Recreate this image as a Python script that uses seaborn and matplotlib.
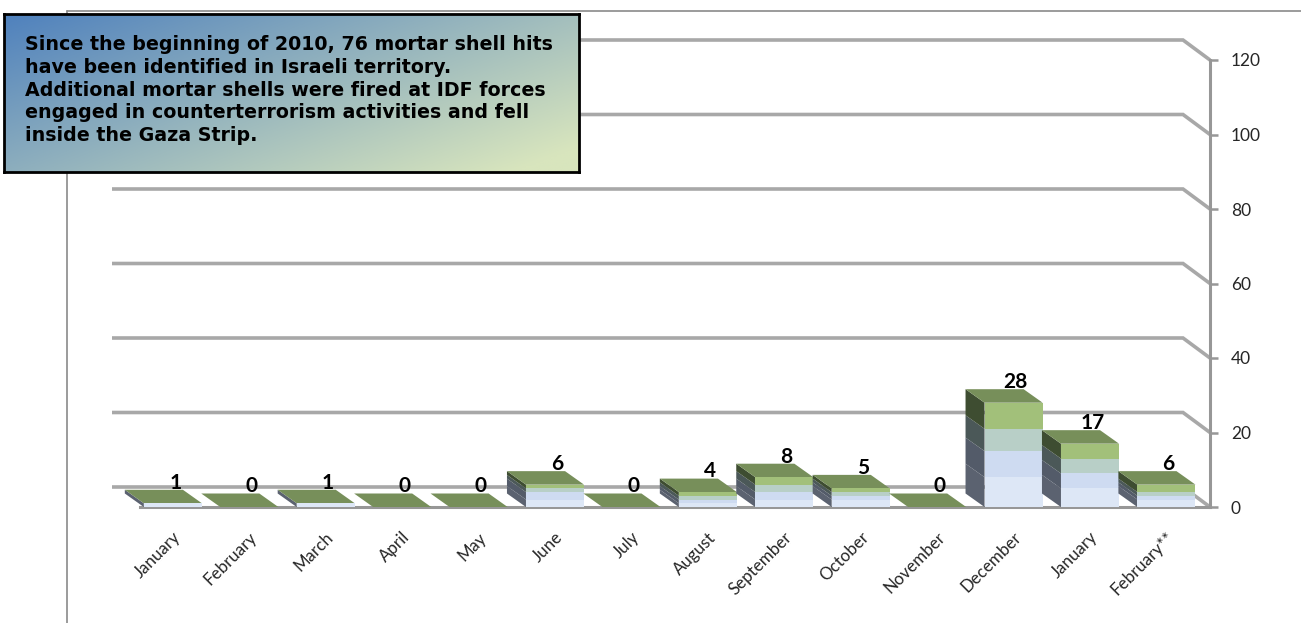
import numpy as np
import pandas as pd
import matplotlib
matplotlib.use("Agg")
import matplotlib.pyplot as plt
from matplotlib.patches import Polygon
from matplotlib.lines import Line2D
import seaborn as sns

# Monthly mortar shell hits (2010 through February 2011)
months = ["January", "February", "March", "April", "May", "June", "July",
          "August", "September", "October", "November", "December",
          "January", "February**"]
totals = [1, 0, 1, 0, 0, 6, 0, 4, 8, 5, 0, 28, 17, 6]
# stacked layers, bottom to top (the top layer is the remainder of the total)
layer_1 = [1, 0, 1, 0, 0, 2, 0, 1, 2, 2, 0, 8, 5, 2]
layer_2 = [0, 0, 0, 0, 0, 2, 0, 1, 2, 1, 0, 7, 4, 1]
layer_3 = [0, 0, 0, 0, 0, 1, 0, 1, 2, 1, 0, 6, 4, 1]
y_ticks = [0, 20, 40, 60, 80, 100, 120]

note = ("Since the beginning of 2010, 76 mortar shell hits\n"
        "have been identified in Israeli territory.\n"
        "Additional mortar shells were fired at IDF forces\n"
        "engaged in counterterrorism activities and fell\n"
        "inside the Gaza Strip.")

sns.set_style("white")
plt.rcParams["font.family"] = ["Lato", "DejaVu Sans"]

W, H = 1301, 623
fig = plt.figure(figsize=(W / 100, H / 100), dpi=100)

# plot area (front plane of the 3-D box)
X0, X1, Y0, Y1 = 140, 1210, 507, 60
ax = fig.add_axes([X0 / W, (H - Y0) / H, (X1 - X0) / W, (Y0 - Y1) / H])
XMIN, XMAX = -0.43, 13.57
px_x = (X1 - X0) / (XMAX - XMIN)
px_y = (Y0 - Y1) / 120.0

# oblique depth offsets (bars and back wall), in data units
DX, DY = -19 / px_x, 13.5 / px_y
WDX, WDY = -27 / px_x, 20 / px_y
WALL_LEFT = XMIN - 28 / px_x

c1 = np.array(layer_1)
c2 = c1 + np.array(layer_2)
c3 = c2 + np.array(layer_3)
df = pd.DataFrame({"pos": np.arange(len(months)), "total": totals,
                   "c3": c3, "c2": c2, "c1": c1})

front_cols = {"total": "#a2c07a", "c3": "#b8cfc7", "c2": "#cedbf1", "c1": "#dde7f6"}
side_cols = {"total": "#3e4d31", "c3": "#4b5858", "c2": "#535b69", "c1": "#5b6270"}
TOP_COL = "#778f5a"
order = ["total", "c3", "c2", "c1"]

# back-wall gridlines bending to the front axis
for v in y_ticks:
    ax.plot([WALL_LEFT, XMAX + WDX, XMAX], [v + WDY, v + WDY, v],
            color="#a8a8a8", lw=2.6, solid_capstyle="butt",
            solid_joinstyle="miter", clip_on=False, zorder=1)

fronts = {}
for k, col in enumerate(order):
    n0 = len(ax.patches)
    sns.barplot(data=df, x="pos", y=col, color=front_cols[col], saturation=1,
                width=0.76, errorbar=None, linewidth=0, ax=ax)
    fronts[col] = ax.patches[n0:]
    for i, p in enumerate(fronts[col]):
        p.set_zorder(3 + i + 0.5 + k * 0.01)
        p.set_clip_on(False)

# side and top faces built from the front faces
for i, p in enumerate(fronts["total"]):
    x0, w = p.get_x(), p.get_width()
    bounds = [0] + [fronts[c][i].get_height() for c in ["c1", "c2", "c3", "total"]]
    for j, c in enumerate(["c1", "c2", "c3", "total"]):
        lo, hi = bounds[j], bounds[j + 1]
        if hi > lo:
            ax.add_patch(Polygon([(x0, lo), (x0, hi), (x0 + DX, hi + DY), (x0 + DX, lo + DY)],
                                 closed=True, facecolor=side_cols[c], edgecolor="none",
                                 zorder=3 + i + 0.1, clip_on=False))
    h = p.get_height()
    ax.add_patch(Polygon([(x0, h), (x0 + w, h), (x0 + w + DX, h + DY), (x0 + DX, h + DY)],
                         closed=True, facecolor=TOP_COL, edgecolor="none",
                         zorder=3 + i + 0.2, clip_on=False))
    ax.text(x0 + w / 2 + 0.03, h + DY + 0.3, f"{totals[i]:.0f}", ha="center", va="baseline",
            fontsize=15, fontweight="bold", color="black", zorder=30, clip_on=False)

ax.set_xlim(XMIN, XMAX)
ax.set_ylim(0, 120)
ax.set_xlabel("")
ax.set_ylabel("")

# category labels at slot centres, tick marks at slot boundaries
ax.set_xticks(np.arange(len(months)) + 0.07)
ax.set_xticklabels(months, rotation=45, ha="right", va="center", rotation_mode="anchor")
ax.set_xticks(np.arange(len(months) + 1) + XMIN, minor=True)
ax.tick_params(axis="x", which="major", length=0, pad=20, labelsize=12.2)
ax.tick_params(axis="x", which="minor", length=6, width=1.5, color="#8f8f8f", direction="out")

ax.yaxis.tick_right()
ax.set_yticks(y_ticks)
ax.tick_params(axis="y", direction="out", length=6, width=1.8, color="#979797",
               pad=9, labelsize=12.5, right=True, left=False)

for s in ["top", "left"]:
    ax.spines[s].set_visible(False)
for s in ["right", "bottom"]:
    ax.spines[s].set_color("#979797")
    ax.spines[s].set_linewidth(2.2)
    ax.spines[s].set_zorder(2)

# chart frame lines
fig.add_artist(Line2D([67 / W, 1], [1 - 11 / H, 1 - 11 / H], color="#8a8a8a", lw=1.2))
fig.add_artist(Line2D([67 / W, 67 / W], [1 - 11 / H, 0], color="#8a8a8a", lw=1.2))

# annotation box with diagonal gradient
bx0, by0, bx1, by1 = 4, 14, 579, 172
bax = fig.add_axes([bx0 / W, 1 - by1 / H, (bx1 - bx0) / W, (by1 - by0) / H])
bax.set_zorder(10)
u, v = np.meshgrid(np.linspace(0, 1, 300), np.linspace(0, 1, 100))
t = np.clip(0.62 * u + 0.45 * v, 0, 1)[..., None]
c_start = np.array([79, 129, 189]) / 255
c_end = np.array([216, 229, 189]) / 255
grad = c_start * (1 - t) + c_end * t
bax.imshow(grad, extent=[0, 1, 0, 1], aspect="auto", origin="upper")
bax.set_xlim(0, 1)
bax.set_ylim(0, 1)
bax.set_xticks([])
bax.set_yticks([])
for s in bax.spines.values():
    s.set_color("black")
    s.set_linewidth(2)
bax.text(21 / (bx1 - bx0), 1 - 21 / (by1 - by0), note, transform=bax.transAxes,
         ha="left", va="top", fontsize=13.7, fontweight="bold",
         family=["DejaVu Sans"], linespacing=1.25, color="black")

fig.savefig("out.png", dpi=100)
